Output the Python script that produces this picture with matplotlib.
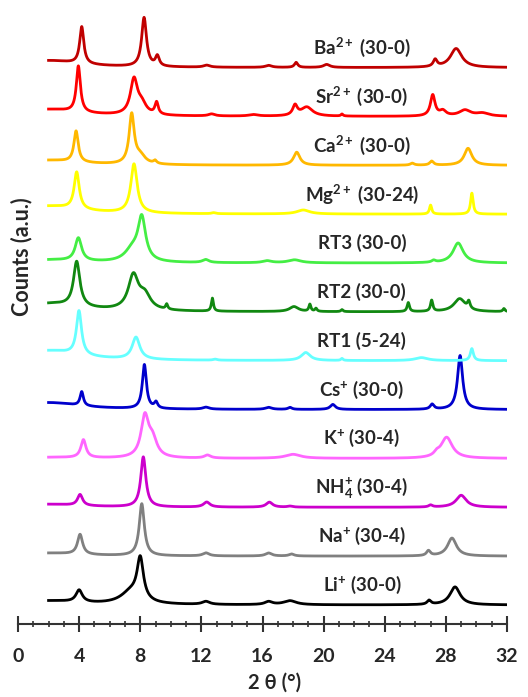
import numpy as np
import matplotlib.pyplot as plt
from matplotlib.ticker import MultipleLocator

plt.rcParams['font.family'] = ['Lato', 'DejaVu Sans']
plt.rcParams['mathtext.fontset'] = 'custom'
plt.rcParams['mathtext.rm'] = 'Lato:bold'
plt.rcParams['mathtext.it'] = 'Lato:italic:bold'
plt.rcParams['mathtext.bf'] = 'Lato:bold'

# peaks: (2 theta, height a.u., half width)
# the broad entry at 2.0 is the low-angle background
li_peaks = [(2.0, 4, 2.5), (4.0, 12, 0.25), (7.4, 12, 0.8), (8.0, 41, 0.25),
            (12.3, 3, 0.3), (16.4, 3, 0.3), (17.8, 4, 0.5), (26.9, 4, 0.15),
            (28.6, 18, 0.4)]
na_peaks = [(2.0, 3, 2.5), (4.06, 20, 0.2), (8.1, 52, 0.2), (12.3, 3, 0.25),
            (16.4, 3, 0.25), (17.9, 2, 0.2), (26.86, 5, 0.15), (28.4, 18, 0.35)]
nh4_peaks = [(2.0, 3, 2.5), (4.06, 11, 0.2), (8.2, 50, 0.2), (12.35, 5, 0.25),
             (16.45, 5, 0.25), (17.8, 1, 0.2), (27.0, 2, 0.15), (29.0, 12, 0.4)]
k_peaks = [(2.0, 1, 2.5), (4.28, 18, 0.2), (8.3, 40, 0.3), (8.8, 17, 0.35),
           (12.4, 3, 0.25), (18.0, 4, 0.6), (27.4, 3, 0.2), (28.05, 21, 0.45)]
cs_peaks = [(2.0, 7, 2.5), (4.17, 14, 0.13), (8.27, 44, 0.16), (9.03, 6, 0.13),
            (12.3, 2, 0.25), (16.4, 2, 0.25), (17.8, 2, 0.15), (20.6, 5, 0.2),
            (27.1, 5, 0.15), (28.93, 54, 0.2)]
rt1_peaks = [(2.0, 10, 2.5), (3.99, 44, 0.2), (7.72, 22, 0.3), (12.9, 1, 0.15),
             (18.83, 8, 0.35), (21.2, 2, 0.08), (26.4, 3, 0.5), (29.7, 12, 0.12)]
rt2_peaks = [(2.0, 8, 2.5), (3.84, 45, 0.25), (7.55, 34, 0.4), (8.3, 14, 0.45),
             (9.73, 5, 0.08), (12.72, 13, 0.08), (18.06, 5, 0.35), (19.1, 7, 0.08),
             (19.5, 3, 0.08), (21.2, 2, 0.08), (25.54, 9, 0.09), (27.07, 11, 0.09),
             (28.9, 13, 0.45), (29.5, 7, 0.1), (31.8, 3, 0.08)]
rt3_peaks = [(2.0, 3, 2.5), (3.95, 23, 0.25), (7.5, 12, 0.6), (8.1, 42, 0.3),
             (12.28, 3, 0.25), (16.3, 2, 0.35), (18.1, 3, 0.5), (27.2, 2, 0.15),
             (28.8, 20, 0.4)]
mg_peaks = [(2.0, 8, 2.5), (3.84, 37, 0.2), (7.59, 49, 0.25), (12.8, 1, 0.15),
            (18.67, 4, 0.5), (27.0, 9, 0.09), (29.7, 21, 0.1)]
ca_peaks = [(2.0, 5, 2.5), (3.8, 31, 0.17), (7.44, 49, 0.2), (8.0, 8, 0.4),
            (8.97, 3, 0.12), (18.24, 13, 0.25), (25.8, 2, 0.15), (27.07, 4, 0.15),
            (29.45, 17, 0.3)]
sr_peaks = [(2.0, 7, 2.5), (3.95, 46, 0.16), (7.59, 35, 0.28), (8.1, 10, 0.35),
            (9.07, 12, 0.13), (12.67, 2, 0.25), (15.4, 1.5, 0.35), (18.13, 10, 0.18),
            (18.9, 9, 0.45), (21.2, 2, 0.08), (27.14, 21, 0.18), (27.8, 5, 0.25),
            (29.25, 6, 0.45), (30.4, 3, 0.5)]
ba_peaks = [(2.0, 7, 2.5), (4.17, 37, 0.16), (8.25, 49, 0.19), (9.12, 10, 0.15),
            (12.35, 2, 0.25), (16.4, 2, 0.25), (18.2, 5, 0.13), (20.2, 3, 0.25),
            (27.3, 7, 0.15), (28.67, 19, 0.45)]

# bottom to top
patterns = [li_peaks, na_peaks, nh4_peaks, k_peaks, cs_peaks, rt1_peaks,
            rt2_peaks, rt3_peaks, mg_peaks, ca_peaks, sr_peaks, ba_peaks]
labels = ['Li$^{+}$ (30-0)', 'Na$^{+}$ (30-4)', 'NH$_4^{+}$ (30-4)', 'K$^{+}$ (30-4)',
          'Cs$^{+}$ (30-0)', 'RT1 (5-24)', 'RT2 (30-0)', 'RT3 (30-0)',
          'Mg$^{2+}$ (30-24)', 'Ca$^{2+}$ (30-0)', 'Sr$^{2+}$ (30-0)', 'Ba$^{2+}$ (30-0)']
colors = ['#000000', '#808080', '#CC00CC', '#FF66FF', '#0000CC', '#66FFFF',
          '#118811', '#44EE44', '#FFFF00', '#FFB800', '#FF0000', '#C00000']

two_theta = np.linspace(2, 32, 3001)


def pattern(peaks):
    y = np.zeros_like(two_theta)
    for pos, h, w in peaks:
        y += h * w ** 2 / ((two_theta - pos) ** 2 + w ** 2)
    return y


fig = plt.figure(figsize=(5.28, 6.97), dpi=100)
ax = fig.add_axes([18 / 528, 73 / 697, 489 / 528, 619 / 697])

step = 48.85
for i, (peaks, lab, col) in enumerate(zip(patterns, labels, colors)):
    base = 19 + i * step
    ax.plot(two_theta, pattern(peaks) + base, color=col, lw=2)
    ax.text(22.5, base + 20, lab, ha='center', va='center', fontsize=13.5,
            fontweight='bold', color='#262626')

ax.set_xlim(0, 32)
ax.set_ylim(0, 619)
for s in ['left', 'right', 'top']:
    ax.spines[s].set_visible(False)
ax.spines['bottom'].set_linewidth(1.5)
ax.spines['bottom'].set_color('#333333')
ax.set_yticks([])
ax.xaxis.set_major_locator(MultipleLocator(4))
ax.xaxis.set_minor_locator(MultipleLocator(1))
ax.tick_params(axis='x', which='major', direction='inout', length=11, width=1.5,
               color='#333333', labelsize=14, pad=12, labelcolor='#262626')
ax.tick_params(axis='x', which='minor', direction='inout', length=4.5, width=1.2,
               color='#333333')
for t in ax.get_xticklabels():
    t.set_fontweight('bold')

fig.text(275 / 528, 1 - 683 / 697, '2 θ (°)', ha='center', va='center',
         fontsize=14.5, fontweight='bold', color='#262626')
fig.text(22 / 528, 1 - 257 / 697, 'Counts (a.u.)', rotation=90, ha='center',
         va='center', fontsize=15.5, fontweight='bold', color='#262626')

fig.savefig('out.png', dpi=100)
